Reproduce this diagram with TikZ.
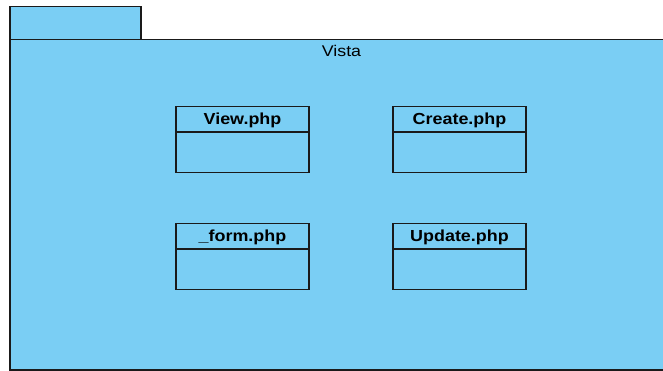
\documentclass[tikz,border=0pt]{standalone}
\usepackage{fontspec}
\setmainfont{Liberation Sans}
\usepackage{graphicx}
\definecolor{pkgfill}{HTML}{7ACEF4}
\definecolor{pkgline}{HTML}{1A1A1A}
\begin{document}
\begin{tikzpicture}[x=1pt,y=-1pt,
  pkg/.style={fill=pkgfill,draw=pkgline,line width=1.4pt},
  classbox/.style={draw=pkgline,line width=1.4pt,minimum width=133pt,minimum height=66pt,inner sep=0pt},
  classname/.style={font=\fontsize{16}{18}\selectfont\bfseries,inner sep=0pt,anchor=base}]
  \useasboundingbox (0,0) rectangle (663,371);
  % package tab and body
  \draw[pkg] (10,6.5) rectangle (141,39.5);
  \draw[pkg] (10,39.5) rectangle (670,370);
  \node[font=\fontsize{15.5}{17}\selectfont,anchor=base,inner sep=0pt] (title) at (341.5,56.5) {\scalebox{1.15}[1]{Vista}};
  % classes
  \foreach \nm/\cx/\ty/\lbl in {view/242.5/106/View.php, create/459.5/106/Create.php, form/242.5/223/\_form.php, update/459.5/223/Update.php}{
    \node[classbox,anchor=north] (\nm) at (\cx,\ty) {};
    \draw[pkgline,line width=1.4pt] ([yshift=-26pt]\nm.north west) -- ([yshift=-26pt]\nm.north east);
    \node[classname] (\nm-name) at ([yshift=-18.5pt]\nm.north) {\scalebox{1.12}[1]{\lbl}};
  }
\end{tikzpicture}
\end{document}
